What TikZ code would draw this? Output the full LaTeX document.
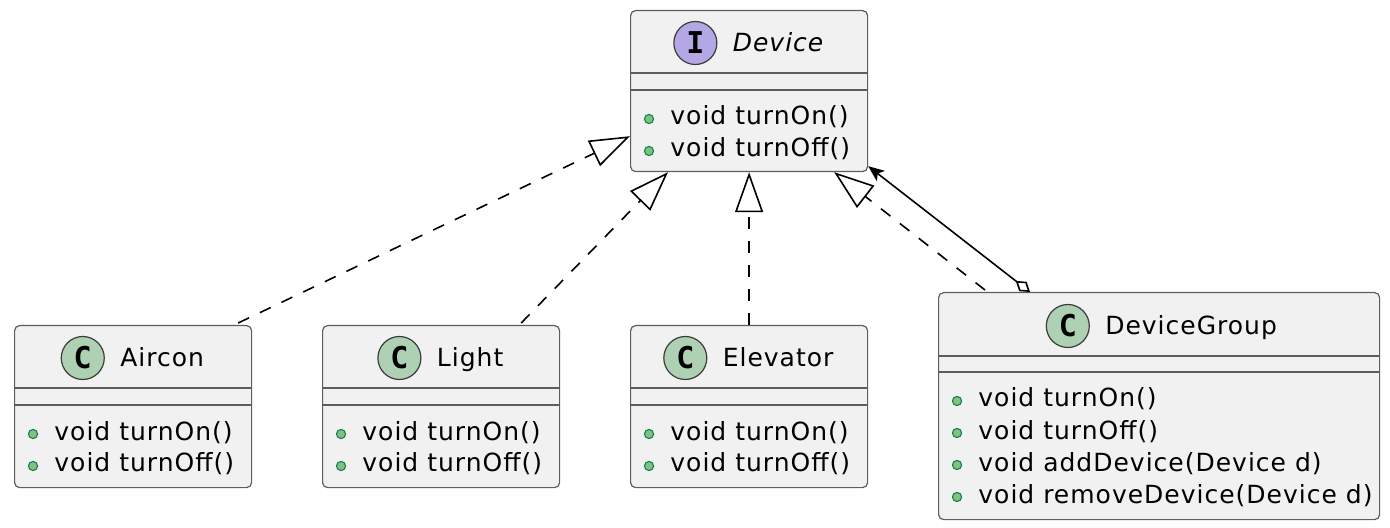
\documentclass[tikz,border=0pt]{standalone}
\usepackage{fontspec}
\setmainfont{DejaVu Sans}[LetterSpace=4]
\newfontfamily\badgefont{DejaVu Sans Mono}
\usetikzlibrary{arrows.meta, positioning, calc}
\definecolor{ClassFill}{HTML}{F1F1F1}
\definecolor{ClassLine}{HTML}{181818}
\definecolor{IfaceBadge}{HTML}{B4A7E5}
\definecolor{ClassBadge}{HTML}{ADD1B2}
\definecolor{PubFill}{HTML}{84BE84}
\definecolor{PubLine}{HTML}{038048}
\tikzset{
  classbox/.style={rectangle, rounded corners=2.5pt, draw=ClassLine!70,
                   fill=ClassFill, line width=0.6pt, anchor=north west,
                   inner sep=0pt, minimum width=118.5pt, minimum height=81pt},
  badgeC/.style={circle, draw=ClassLine!85, fill=ClassBadge, line width=0.6pt,
                 inner sep=0pt, minimum size=21.5pt,
                 font=\badgefont\bfseries\fontsize{15}{15}\selectfont},
  badgeI/.style={badgeC, fill=IfaceBadge},
  classname/.style={anchor=base, inner sep=0pt, text height=9pt, text depth=0pt,
                    font=\fontsize{12.5}{15}\selectfont},
  member/.style={anchor=base west, inner sep=0pt,
                 font=\fontsize{12.5}{15}\selectfont},
  pub/.style={circle, draw=PubLine, fill=PubFill, line width=0.5pt,
              inner sep=0pt, minimum size=4.6pt},
  divider/.style={draw=ClassLine!70, line width=0.6pt},
  realize/.style={draw=black, line width=0.8pt, dash pattern=on 6pt off 6pt,
                  -{Triangle[open, length=20pt, width=14pt]}},
  aggr/.style={draw=black, line width=0.8pt,
               {Diamond[open, length=9pt, width=6pt]}-{Stealth[length=8pt, width=6.5pt, inset=2pt]}},
}
\begin{document}
\begin{tikzpicture}[x=0.5pt, y=-0.5pt]
    \useasboundingbox (0,0) rectangle (1390,528);
    %% interface
    \node[classbox, minimum height=80.5pt] (device) at (630,10) {};
    \node[classname, font=\fontsize{12.5}{15}\selectfont\itshape] (device-name)
      at ($(device.north)+(14.5pt,-21pt)$) {Device};
    \node[badgeI, left=7.5pt of device-name] (device-badge) {I};
    \foreach \y in {31.5,40}{
      \draw[divider] ([yshift=-\y pt]device.north west) -- ([yshift=-\y pt]device.north east);
    }
    \foreach \m/\dy [count=\k] in {void turnOn()/57.5, void turnOff()/73.5}{
      \node[member] (device-m\k) at ([xshift=20pt, yshift=-\dy pt]device.north west) {\m};
      \node[pub] at ([xshift=-10.5pt, yshift=3pt]device-m\k.base west) {};
    }
    %% simple classes
    \foreach \name/\title/\x in {aircon/Aircon/14, light/Light/322, elevator/Elevator/630}{
      \node[classbox] (\name) at (\x,325) {};
      \node[classname] (\name-name) at ($(\name.north)+(14.5pt,-21pt)$) {\title};
      \node[badgeC, left=7.5pt of \name-name] (\name-badge) {C};
      \foreach \y in {31.5,40}{
        \draw[divider] ([yshift=-\y pt]\name.north west) -- ([yshift=-\y pt]\name.north east);
      }
      \foreach \m/\dy [count=\k] in {void turnOn()/57.5, void turnOff()/73.5}{
        \node[member] (\name-m\k) at ([xshift=20pt, yshift=-\dy pt]\name.north west) {\m};
        \node[pub] at ([xshift=-10.5pt, yshift=3pt]\name-m\k.base west) {};
      }
    }
    %% composite
    \node[classbox, minimum width=220.5pt, minimum height=113.5pt] (devicegroup) at (938,292) {};
    \node[classname] (devicegroup-name) at ($(devicegroup.north)+(16pt,-21.5pt)$) {DeviceGroup};
    \node[badgeC, left=7.5pt of devicegroup-name] (devicegroup-badge) {C};
    \foreach \y in {32,40}{
      \draw[divider] ([yshift=-\y pt]devicegroup.north west) -- ([yshift=-\y pt]devicegroup.north east);
    }
    \foreach \m/\dy [count=\k] in {void turnOn()/57.5, void turnOff()/73.5,
                                   void addDevice(Device d)/89.5, void removeDevice(Device d)/105.5}{
      \node[member] (devicegroup-m\k) at ([xshift=20pt, yshift=-\dy pt]devicegroup.north west) {\m};
      \node[pub] at ([xshift=-10.5pt, yshift=3pt]devicegroup-m\k.base west) {};
    }
    %% relations
    \draw[realize] ([xshift=-7pt, yshift=1pt]aircon.north east) -- ([yshift=18pt]device.south west);
    \draw[realize] ([xshift=-19.5pt, yshift=1pt]light.north east) -- ([xshift=19pt]device.south west);
    \draw[realize] (elevator.north) -- (device.south);
    \draw[realize] ([xshift=23.5pt, yshift=1pt]devicegroup.north west) -- ([xshift=-17pt]device.south east);
    \draw[aggr] ([xshift=46pt]devicegroup.north west) -- ([yshift=3pt]device.south east);
  \end{tikzpicture}
\end{document}
